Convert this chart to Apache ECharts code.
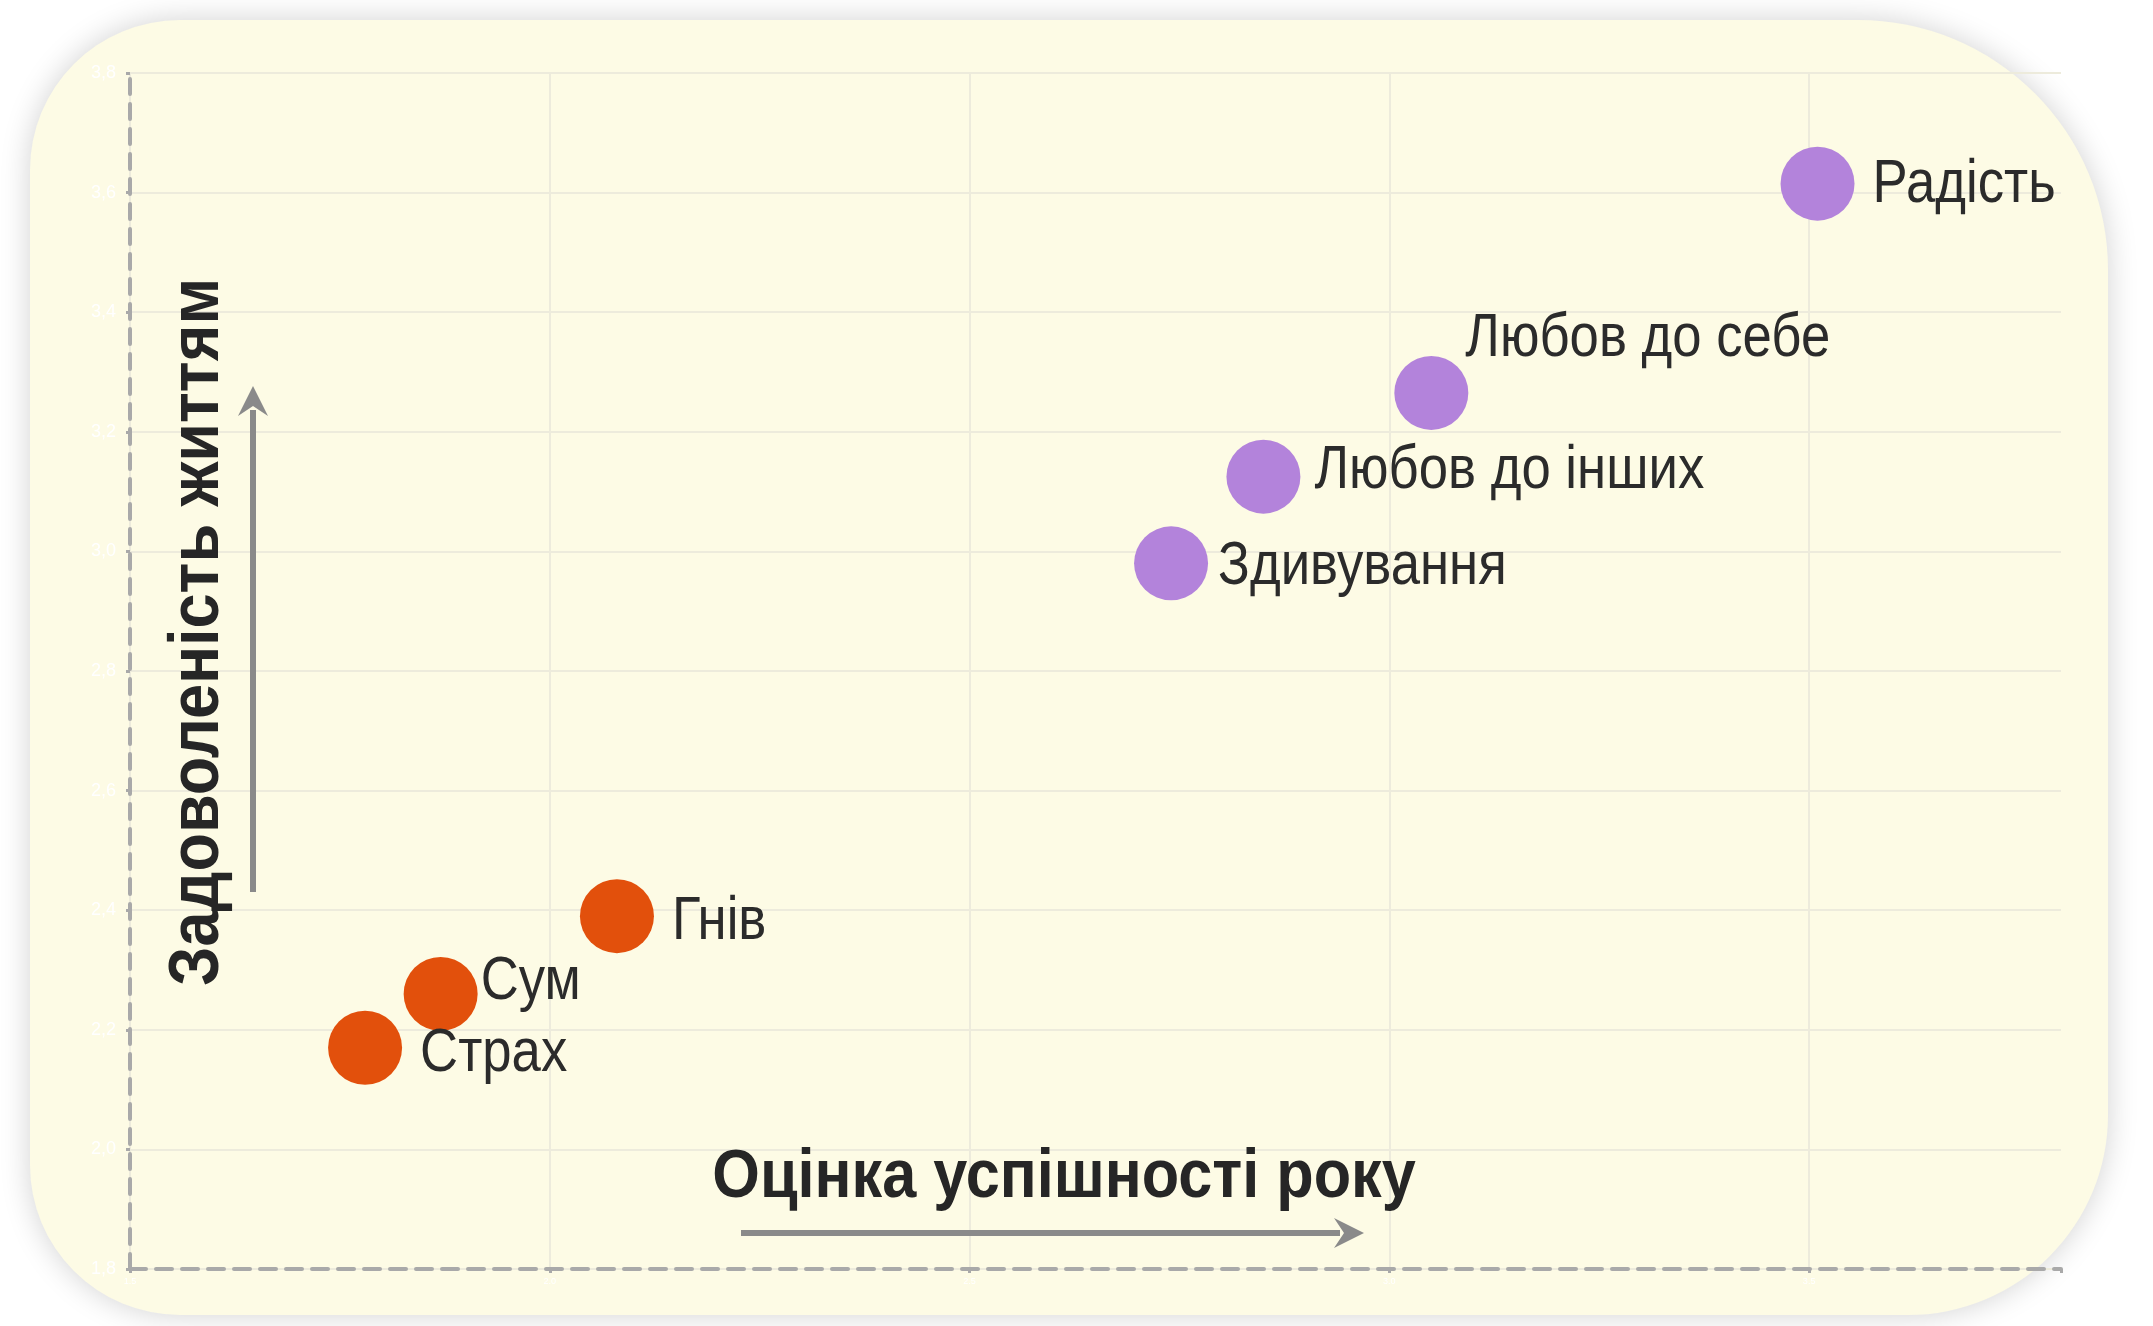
<!DOCTYPE html>
<html>
<head>
<meta charset="utf-8">
<script src="https://cdn.jsdelivr.net/npm/echarts@6/dist/echarts.min.js"></script>
<style>
  html, body { margin: 0; padding: 0; background: #ffffff; }
  #chart { width: 2153px; height: 1326px; }
</style>
</head>
<body>
<div id="chart"></div>
<script>
  // емоції та їхні оцінки
  var emotions = ['Страх', 'Сум', 'Гнів', 'Здивування', 'Любов до інших', 'Любов до себе', 'Радість']
  var successScore = [1.78, 1.87, 2.08, 2.74, 2.85, 3.05, 3.51]
  var lifeSatisfaction = [2.17, 2.26, 2.39, 2.98, 3.125, 3.265, 3.615]
  var negativeGroup = ['Страх', 'Сум', 'Гнів']

  var xTitle = 'Оцінка успішності року'
  var yTitle = 'Задоволеність життям'

  var orange = '#E2500C'
  var purple = '#B383DB'
  var font = '"Liberation Sans", Arial, sans-serif'
  var dotSize = 74

  // зсув підписів від центру точки (вузький шрифт імітуємо через scaleX)
  var labelShift = {
    'Страх': [55, 6],
    'Сум': [40, -12],
    'Гнів': [55, 6],
    'Здивування': [47, 4],
    'Любов до інших': [51, -6],
    'Любов до себе': [34, -54],
    'Радість': [55, 1]
  }

  function makeData (group) {
    var arr = []
    emotions.forEach(function (name, i) {
      var isNeg = negativeGroup.indexOf(name) >= 0
      if (isNeg !== group) return
      arr.push({ name: name, value: [successScore[i], lifeSatisfaction[i]] })
    })
    return arr
  }

  function commaFmt (v) {
    return v.toFixed(1).replace('.', ',')
  }

  var mychart = echarts.init(document.getElementById('chart'))

  var baseGraphic = [
    {
      type: 'rect',
      z: -10,
      shape: { x: 30, y: 20, width: 2078, height: 1295, r: [150, 250, 200, 150] },
      style: { fill: '#FDFBE5', shadowBlur: 30, shadowColor: 'rgba(0,0,0,0.18)' }
    },
    {
      type: 'line',
      z: 1,
      shape: { x1: 741, y1: 1233, x2: 1340, y2: 1233 },
      style: { stroke: '#8A8A8A', lineWidth: 6 }
    },
    {
      type: 'polygon',
      z: 1,
      shape: { points: [[1364, 1233], [1334, 1218], [1344, 1233], [1334, 1248]] },
      style: { fill: '#8A8A8A' }
    },
    {
      type: 'line',
      z: 1,
      shape: { x1: 253, y1: 892, x2: 253, y2: 410 },
      style: { stroke: '#8A8A8A', lineWidth: 6 }
    },
    {
      type: 'polygon',
      z: 1,
      shape: { points: [[253, 386], [238, 416], [253, 406], [268, 416]] },
      style: { fill: '#8A8A8A' }
    },
    {
      type: 'text',
      z: 5,
      x: 1064,
      y: 1178,
      scaleX: 0.9,
      style: {
        text: xTitle,
        fill: '#262626',
        font: 'bold 68px ' + font,
        textAlign: 'center',
        textVerticalAlign: 'middle'
      }
    },
    {
      type: 'text',
      z: 5,
      x: 199,
      y: 632,
      rotation: Math.PI / 2,
      scaleX: 0.9,
      style: {
        text: yTitle,
        fill: '#262626',
        font: 'bold 70px ' + font,
        textAlign: 'center',
        textVerticalAlign: 'middle'
      }
    }
  ]

  var option = {
    backgroundColor: 'transparent',
    animation: false,
    grid: {
      left: 130,
      right: 92,
      top: 73,
      bottom: 57
    },
    xAxis: {
      type: 'value',
      min: 1.5,
      max: 3.8,
      interval: 0.5,
      axisLine: { show: true, lineStyle: { color: '#A9A9A9', width: 4, type: [16, 10] } },
      axisTick: { show: true, length: 4, lineStyle: { color: '#A9A9A9', width: 3 } },
      axisLabel: { color: '#ffffff', fontSize: 9, margin: 8, formatter: function (v) { return v > 3.7 ? '' : v.toFixed(1) } },
      splitLine: { show: true, showMaxLine: false, lineStyle: { color: '#EDEBDC', width: 2 } }
    },
    yAxis: {
      type: 'value',
      min: 1.8,
      max: 3.8,
      interval: 0.2,
      axisLine: { show: true, lineStyle: { color: '#A9A9A9', width: 4, type: [15, 10] } },
      axisTick: { show: true, length: 4, lineStyle: { color: '#A9A9A9', width: 3 } },
      axisLabel: { color: '#ffffff', fontSize: 18, margin: 14, fontFamily: font, formatter: commaFmt },
      splitLine: { show: true, lineStyle: { color: '#EDEBDC', width: 2 } }
    },
    graphic: baseGraphic,
    series: [
      {
        type: 'scatter',
        symbolSize: dotSize,
        itemStyle: { color: orange, opacity: 1 },
        data: makeData(true)
      },
      {
        type: 'scatter',
        symbolSize: dotSize,
        itemStyle: { color: purple, opacity: 1 },
        data: makeData(false)
      }
    ]
  }
  mychart.setOption(option)

  // підписи точок: координати беремо зі шкал графіка
  var labels = []
  emotions.forEach(function (name, i) {
    var pt = mychart.convertToPixel({ gridIndex: 0 }, [successScore[i], lifeSatisfaction[i]])
    var sh = labelShift[name]
    labels.push({
      type: 'text',
      z: 6,
      x: pt[0] + sh[0],
      y: pt[1] + sh[1],
      scaleX: 0.85,
      style: {
        text: name,
        fill: '#2b2b2b',
        font: '62px ' + font,
        textAlign: 'left',
        textVerticalAlign: 'middle'
      }
    })
  })
  mychart.setOption({ graphic: baseGraphic.concat(labels) })
</script>
</body>
</html>
